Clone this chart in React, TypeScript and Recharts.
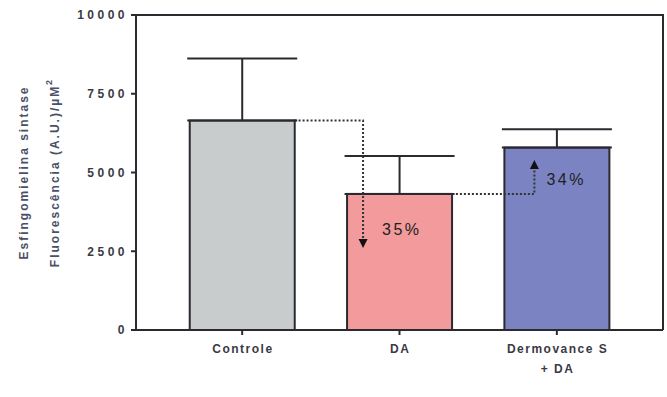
import React from 'react';
import { BarChart, Bar, XAxis, YAxis, ErrorBar, Cell, CartesianGrid } from 'recharts';

// Groups and measured values (mean and upper SD)
const categories = ['Controle', 'DA', 'Dermovance S + DA'];
const means = [6650, 4320, 5790];
const upperErrors = [1970, 1200, 580];
const barColors = ['#c9cccc', '#f29a9c', '#7b83c2'];
const yTicks = [0, 2500, 5000, 7500, 10000];
const yMax = 10000;

// Percent changes between groups
const dropLabel = '35%';
const riseLabel = '34%';
// Where the change arrows end and where their labels sit, in data units
const dropArrowTip = 2600;
const dropLabelAt = 3150;
const riseArrowTip = 5400;
const riseLabelAt = 4750;

const tickLabelLines: Record<string, string[]> = {
  Controle: ['Controle'],
  DA: ['DA'],
  'Dermovance S + DA': ['Dermovance S', '+ DA'],
};

const data = categories.map((name, i) => ({
  name,
  value: means[i],
  err: [0, upperErrors[i]],
}));

const INK = '#2a2a30';
const TEXT = '#3a3a44';
const FONT = '"Liberation Sans", Arial, sans-serif';
const CHART_W = 667;
const CHART_H = 397;
const MARGIN = { top: 15, right: 4, bottom: 0, left: 0 };
const Y_AXIS_W = 136;
const X_AXIS_H = 67;

const Arrow = ({ x, y, dir }: { x: number; y: number; dir: 'up' | 'down' }) => {
  const h = 9;
  const w = 4.5;
  const base = dir === 'down' ? y - h : y + h;
  return <path d={`M${x - w},${base} L${x + w},${base} L${x},${y} Z`} fill="#111" />;
};

const BarShape = (props: any) => {
  const { x, y, width, height, index, value, fill } = props;
  const perUnit = height / value;
  const yOf = (v: number) => y + height - v * perUnit;
  const gap = width / 2;
  const dotted = { stroke: '#333', strokeWidth: 2, strokeDasharray: '2 2', fill: 'none' };

  let annotation = null;
  if (index === 1) {
    const startX = x - gap;
    const ax = x + 16;
    const yc = yOf(means[0]);
    const tip = yOf(dropArrowTip);
    annotation = (
      <g>
        <path d={`M${startX},${yc} L${ax},${yc} L${ax},${tip - 8}`} {...dotted} />
        <Arrow x={ax} y={tip} dir="down" />
        <text
          x={x + 35}
          y={yOf(dropLabelAt)}
          dominantBaseline="middle"
          fontFamily={FONT}
          fontSize={16}
          letterSpacing={2.5}
          fill="#222"
        >
          {dropLabel}
        </text>
      </g>
    );
  }
  if (index === 2) {
    const startX = x - gap;
    const ax = x + 30;
    const yd = yOf(means[1]);
    const tip = yOf(riseArrowTip);
    annotation = (
      <g>
        <path d={`M${startX},${yd} L${ax},${yd} L${ax},${tip + 8}`} {...dotted} />
        <Arrow x={ax} y={tip} dir="up" />
        <text
          x={x + 42}
          y={yOf(riseLabelAt)}
          dominantBaseline="middle"
          fontFamily={FONT}
          fontSize={16}
          letterSpacing={2.5}
          fill="#222"
        >
          {riseLabel}
        </text>
      </g>
    );
  }

  return (
    <g>
      <rect x={x} y={y} width={width} height={height} fill={fill} stroke={INK} strokeWidth={2} />
      {annotation}
    </g>
  );
};

const XTick = (props: any) => {
  const { x, y, payload } = props;
  const lines = tickLabelLines[payload.value] || [payload.value];
  return (
    <text
      x={x}
      y={y}
      textAnchor="middle"
      fontFamily={FONT}
      fontSize={12}
      fontWeight="bold"
      letterSpacing={1.5}
      fill={TEXT}
    >
      {lines.map((line: string, i: number) => (
        <tspan key={i} x={x + 0.75} dy={i === 0 ? 16 : 20}>
          {line}
        </tspan>
      ))}
    </text>
  );
};

// Y-axis title (two rotated lines) plus the top and right edges of the plot frame
const YTitleAndFrame = () => {
  const plotLeft = MARGIN.left + Y_AXIS_W;
  const plotRight = CHART_W - MARGIN.right;
  const plotTop = MARGIN.top;
  const plotBottom = CHART_H - MARGIN.bottom - X_AXIS_H;
  const cy = (plotTop + plotBottom) / 2;
  const style = {
    fontFamily: FONT,
    fontSize: 12,
    fontWeight: 'bold' as const,
    fill: '#4a5068',
    letterSpacing: 2,
  };
  const x1 = MARGIN.left + 25;
  const x2 = MARGIN.left + 56;
  return (
    <g>
      <path
        d={`M${plotLeft},${plotTop} L${plotRight},${plotTop} L${plotRight},${plotBottom}`}
        stroke={INK}
        strokeWidth={2}
        fill="none"
      />
      <text
        x={x1}
        y={cy}
        textAnchor="middle"
        dominantBaseline="middle"
        transform={`rotate(-90 ${x1} ${cy})`}
        {...style}
      >
        Esfingomielina sintase
      </text>
      <text
        x={x2}
        y={cy}
        textAnchor="middle"
        dominantBaseline="middle"
        transform={`rotate(-90 ${x2} ${cy})`}
        {...style}
      >
        Fluorescência (A.U.)/µM
        <tspan dy={-6} fontSize={9}>
          2
        </tspan>
      </text>
    </g>
  );
};

export default function App() {
  return (
    <div
      style={{
        position: 'fixed',
        left: 0,
        top: 0,
        width: CHART_W,
        height: CHART_H,
        background: '#fff',
      }}
    >
      <BarChart
        width={CHART_W}
        height={CHART_H}
        data={data}
        margin={MARGIN}
        barCategoryGap="16.67%"
      >
        {/* top and right frame edges, taken from the plot offset */}
        <CartesianGrid
          stroke={INK}
          strokeWidth={2}
          fill="none"
          horizontalCoordinatesGenerator={({ offset }: any) => [offset.top]}
          verticalCoordinatesGenerator={({ offset }: any) => [offset.left + offset.width]}
        />
        <XAxis
          dataKey="name"
          interval={0}
          height={X_AXIS_H}
          padding={{ left: 27.5, right: 27.5 }}
          axisLine={{ stroke: INK, strokeWidth: 2 }}
          tickLine={{ stroke: INK, strokeWidth: 2 }}
          tickSize={5}
          tick={<XTick />}
        />
        <YAxis
          domain={[0, yMax]}
          ticks={yTicks}
          width={Y_AXIS_W}
          interval={0}
          axisLine={{ stroke: INK, strokeWidth: 2 }}
          tickLine={{ stroke: INK, strokeWidth: 2 }}
          tickSize={5}
          tickMargin={3}
          tick={{
            fontFamily: FONT,
            fontSize: 12,
            fontWeight: 'bold',
            fill: TEXT,
            letterSpacing: 3.5,
          }}
          label={{ content: <YTitleAndFrame /> }}
        />
        <Bar dataKey="value" isAnimationActive={false} shape={<BarShape />}>
          {data.map((d, i) => (
            <Cell key={d.name} fill={barColors[i]} />
          ))}
          <ErrorBar dataKey="err" direction="y" width={55} stroke={INK} strokeWidth={2} />
        </Bar>
      </BarChart>
    </div>
  );
}
